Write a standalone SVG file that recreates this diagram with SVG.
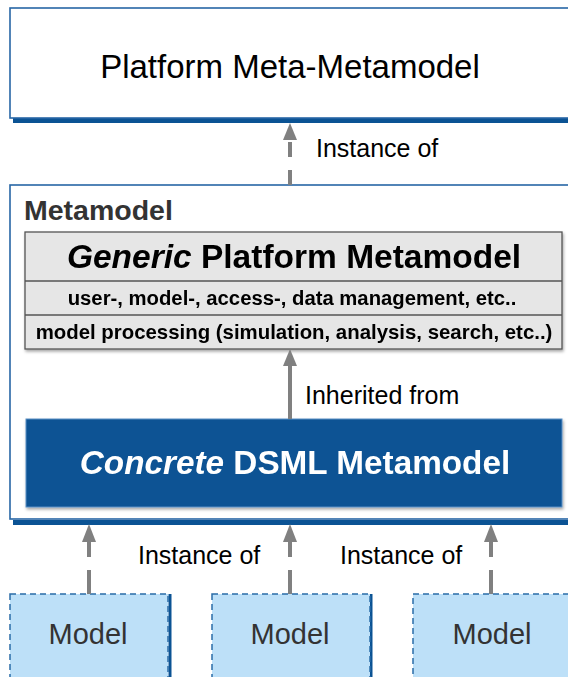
<svg xmlns="http://www.w3.org/2000/svg" width="568" height="677" viewBox="0 0 568 677">
<style>
.lbl{font-family:"Liberation Sans",Arial,sans-serif;font-size:25px;fill:#000}
.frame{fill:#fff;stroke:#2766a6;stroke-width:1.6}
.band{fill:#0b5394}
.conn{stroke:#808080;stroke-width:4;fill:none}
.head{fill:#808080}
.model{fill:#bde0f8;stroke:#2a6ca8;stroke-width:1.5;stroke-dasharray:6 4}
.modelText{font-family:"Liberation Sans",Arial,sans-serif;font-size:29px;fill:#333;text-anchor:middle}
</style>
<defs>
<filter id="sh" x="-5%" y="-10%" width="110%" height="130%">
<feDropShadow dx="1" dy="2" stdDeviation="1.5" flood-color="#000" flood-opacity="0.35"/>
</filter>
</defs>

<g id="meta-metamodel">
<rect class="band" x="13" y="118" width="560" height="5"/>
<rect class="frame" x="10" y="8" width="560" height="110"/>
<text x="290" y="78" text-anchor="middle" font-family="'Liberation Sans',Arial,sans-serif" font-size="33" fill="#000">Platform Meta-Metamodel</text>
</g>

<g id="metamodel">
<rect class="band" x="13" y="520" width="560" height="5"/>
<rect class="frame" x="10" y="185" width="560" height="334"/>
<text x="24" y="220" font-family="'Liberation Sans',Arial,sans-serif" font-size="28.5" font-weight="bold" fill="#333">Metamodel</text>
</g>

<g id="generic-platform-metamodel" filter="url(#sh)">
<rect x="25" y="232" width="537" height="117" fill="#e6e6e6" stroke="#555" stroke-width="1.3"/>
<line x1="25" y1="281" x2="562" y2="281" stroke="#555" stroke-width="1.3"/>
<line x1="25" y1="315" x2="562" y2="315" stroke="#555" stroke-width="1.3"/>
<text x="294" y="268" text-anchor="middle" font-family="'Liberation Sans',Arial,sans-serif" font-size="33.5" font-weight="bold" fill="#000"><tspan font-style="italic">Generic</tspan> Platform Metamodel</text>
<text x="292" y="305" text-anchor="middle" font-family="'Liberation Sans',Arial,sans-serif" font-size="20.3" font-weight="bold" fill="#000">user-, model-, access-, data management, etc..</text>
<text x="294" y="339" text-anchor="middle" font-family="'Liberation Sans',Arial,sans-serif" font-size="20.4" font-weight="bold" fill="#000">model processing (simulation, analysis, search, etc..)</text>
</g>

<g id="concrete-dsml-metamodel" filter="url(#sh)">
<rect x="26" y="419" width="536" height="88" fill="#0b5394" stroke="#5b8fc4" stroke-width="1"/>
<text x="295" y="474" text-anchor="middle" font-family="'Liberation Sans',Arial,sans-serif" font-size="33.3" font-weight="bold" fill="#fff"><tspan font-style="italic">Concrete</tspan> DSML Metamodel</text>
</g>

<g id="model-1">
<line x1="170" y1="594" x2="170" y2="677" stroke="#0b5394" stroke-width="3"/>
<rect class="model" x="10" y="594" width="158" height="90"/>
<text class="modelText" x="88" y="644">Model</text>
</g>
<g id="model-2">
<line x1="371" y1="594" x2="371" y2="677" stroke="#0b5394" stroke-width="3"/>
<rect class="model" x="212" y="594" width="158" height="90"/>
<text class="modelText" x="290" y="644">Model</text>
</g>
<g id="model-3">
<rect class="model" x="413" y="594" width="160" height="90"/>
<text class="modelText" x="492" y="644">Model</text>
</g>

<g id="connectors">
<path class="conn" d="M290 185 V140" stroke-dasharray="15 13"/>
<polygon class="head" points="290,123 283,140 297,140"/>
<text class="lbl" x="316" y="157">Instance of</text>

<path class="conn" d="M290 419 V364"/>
<polygon class="head" points="290,349 283,366 297,366"/>
<text class="lbl" x="305" y="404">Inherited from</text>

<path class="conn" d="M89 594 V542" stroke-dasharray="24 13"/>
<polygon class="head" points="89,524 82,542 96,542"/>
<path class="conn" d="M290 594 V542" stroke-dasharray="24 13"/>
<polygon class="head" points="290,524 283,542 297,542"/>
<path class="conn" d="M491 594 V542" stroke-dasharray="24 13"/>
<polygon class="head" points="491,524 484,542 498,542"/>
<text class="lbl" x="138" y="564">Instance of</text>
<text class="lbl" x="340" y="564">Instance of</text>
</g>
</svg>
